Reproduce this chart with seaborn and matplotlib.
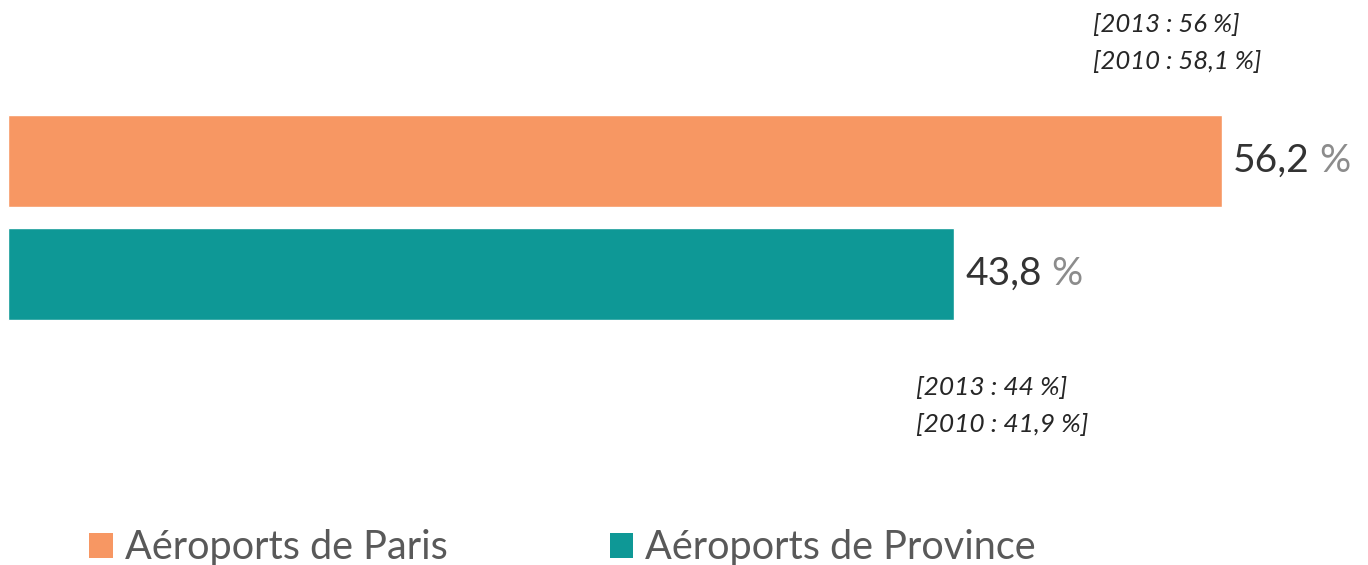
import seaborn as sns
import pandas as pd
import matplotlib.pyplot as plt
from matplotlib.patches import Patch

categories = ["Aéroports de Paris", "Aéroports de Province"]
shares = [56.2, 43.8]
share_labels = ["56,2", "43,8"]
history_labels = [["[2013 : 56 %]", "[2010 : 58,1 %]"],
                  ["[2013 : 44 %]", "[2010 : 41,9 %]"]]
colors = ["#F79763", "#0E9896"]


def plot_shares():
    sns.set_theme(style="white")
    plt.rcParams['font.family'] = ['Lato', 'DejaVu Sans']

    df = pd.DataFrame({"category": categories, "share": shares})

    fig = plt.figure(figsize=(13.68, 5.65), dpi=100)
    ax = fig.add_axes([0, 0, 1, 1])
    sns.barplot(data=df, x="share", y="category", hue="category",
                palette=colors, saturation=1, orient="h", width=0.814,
                legend=False, ax=ax)

    # map axes so one unit ~ 21.6 px horizontally, categories 113 px apart
    ax.set_xlim(-8 / 21.6, 1360 / 21.6)
    ax.set_ylim(565 / 113 - 161 / 113, -161 / 113)
    ax.axis("off")

    for i, (val, lab) in enumerate(zip(shares, share_labels)):
        t = ax.annotate(lab, xy=(val, i), xytext=(8, 0), textcoords="offset points",
                        fontsize=28, color="#333333", va="center", ha="left")
        ax.annotate(" %", xy=(1, 0.5), xycoords=t, fontsize=28, color="#8c8c8c",
                    va="center", ha="left")

    # previous years, above the first bar and below the second
    x_top = (1093 - 8) / 21.6
    x_bot = (916 - 8) / 21.6
    ax.text(x_top, -1.425 + 25 / 113, history_labels[0][0],
            fontsize=18.5, style="italic", color="#262626", va="center")
    ax.text(x_top, -1.425 + 62 / 113, history_labels[0][1],
            fontsize=18.5, style="italic", color="#262626", va="center")
    ax.text(x_bot, -1.425 + 388 / 113, history_labels[1][0],
            fontsize=19, style="italic", color="#262626", va="center")
    ax.text(x_bot, -1.425 + 425 / 113, history_labels[1][1],
            fontsize=19, style="italic", color="#262626", va="center")

    handles = [Patch(facecolor=c, edgecolor="none") for c in colors]
    fig.legend(handles, categories, loc="lower left", bbox_to_anchor=(0.039, -0.065),
               ncol=2, frameon=False, fontsize=28.5, labelcolor="#595959",
               handlelength=0.6, handleheight=0.6, handletextpad=0.3,
               columnspacing=4.1)

    plt.savefig("out.png", dpi=100)


def main():
    plot_shares()


if __name__ == "__main__":
    main()
